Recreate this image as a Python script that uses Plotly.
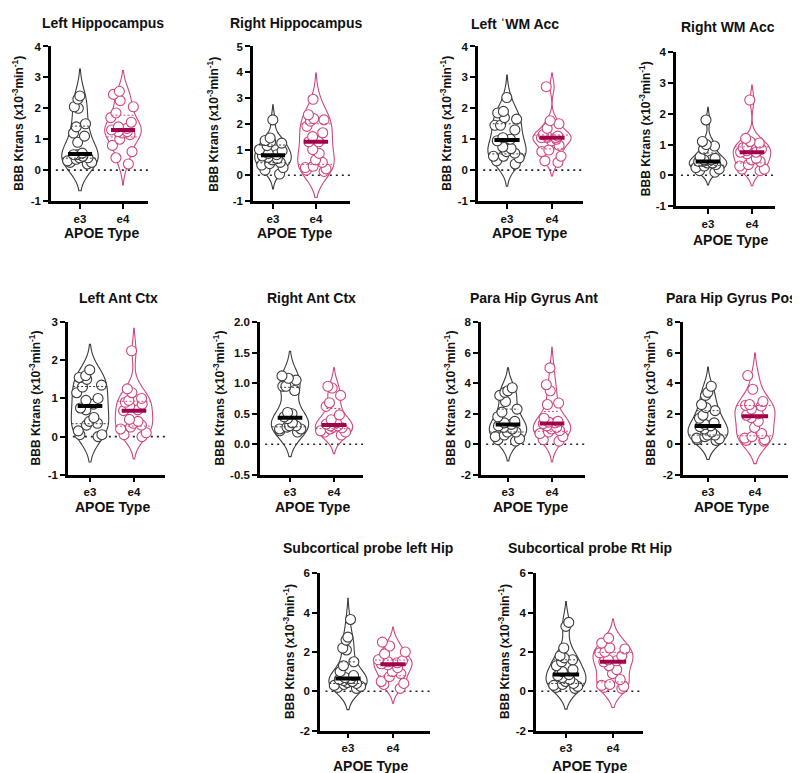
import plotly.graph_objects as go
import numpy as np

W, H = 800, 773
FONT = "Liberation Sans, Arial, sans-serif"

# ---------------- data ----------------
titles = ["Left Hippocampus", "Right Hippocampus", "Left ˈWM Acc", "Right WM Acc",
          "Left Ant Ctx", "Right Ant Ctx", "Para Hip Gyrus Ant", "Para Hip Gyrus Post",
          "Subcortical probe left Hip", "Subcortical probe Rt Hip"]
groups = ["e3", "e4"]

lh_e3 = [2.4, 2.3, 2.05, 2.0, 1.5, 1.4, 1.2, 1.1, 0.9, 0.55, 0.5, 0.45, 0.4, 0.4, 0.35, 0.3, 0.25, 0.25, 0.2, 0.5]
lh_e4 = [2.55, 2.45, 2.25, 2.05, 1.85, 1.7, 1.55, 1.4, 1.35, 1.3, 1.25, 1.25, 1.2, 1.15, 1.0, 0.8, 0.6, 0.4, 0.2]
rh_e3 = [2.15, 1.45, 1.35, 1.3, 1.25, 1.15, 1.0, 0.95, 0.85, 0.8, 0.75, 0.7, 0.65, 0.6, 0.5, 0.45, 0.4, 0.3, 0.2, 0.05]
rh_e4 = [2.95, 2.35, 2.2, 2.15, 2.1, 1.9, 1.65, 1.5, 1.3, 1.3, 1.0, 0.85, 0.6, 0.5, 0.35, 0.3, 0.25, 0.2, 0.15]
lwm_e3 = [2.35, 1.9, 1.85, 1.7, 1.65, 1.45, 1.45, 1.3, 1.05, 1.0, 0.95, 0.75, 0.7, 0.55, 0.45, 0.45, 0.4, 0.3, 0.2, 0.6]
lwm_e4 = [2.7, 1.6, 1.5, 1.35, 1.15, 1.1, 1.1, 1.05, 1.05, 1.05, 1.0, 0.95, 0.8, 0.65, 0.6, 0.45, 0.3, 0.25]
rwm_e3 = [1.8, 1.1, 1.0, 0.95, 0.85, 0.6, 0.55, 0.5, 0.45, 0.45, 0.4, 0.4, 0.35, 0.3, 0.25, 0.2, 0.15, 0.1, 0.5]
rwm_e4 = [2.45, 1.2, 1.1, 1.05, 0.95, 0.9, 0.85, 0.8, 0.75, 0.75, 0.7, 0.55, 0.5, 0.45, 0.35, 0.3, 0.2, 0.2, 0.15]
lac_e3 = [1.75, 1.6, 1.55, 1.5, 1.35, 1.3, 1.15, 1.0, 0.95, 0.85, 0.7, 0.5, 0.4, 0.35, 0.3, 0.15, 0.05, 0.05, 0.0, 0.75]
lac_e4 = [2.25, 1.25, 1.15, 1.0, 0.95, 0.9, 0.85, 0.8, 0.7, 0.68, 0.45, 0.4, 0.35, 0.3, 0.25, 0.2, 0.1, 0.05, 0.0]
rac_e3 = [1.12, 1.08, 1.05, 0.95, 0.95, 0.88, 0.52, 0.5, 0.45, 0.42, 0.35, 0.3, 0.28, 0.25, 0.25, 0.22, 0.2, 0.3]
rac_e4 = [0.95, 0.92, 0.8, 0.68, 0.62, 0.48, 0.4, 0.35, 0.33, 0.3, 0.3, 0.28, 0.27, 0.25, 0.22, 0.2, 0.2, 0.15]
pga_e3 = [3.7, 3.5, 3.4, 3.2, 2.8, 2.3, 2.1, 1.8, 1.4, 1.3, 1.2, 1.1, 1.0, 0.8, 0.6, 0.5, 0.35, 0.3, 0.2, 0.8, 1.5]
pga_e4 = [5.0, 3.9, 3.5, 2.7, 2.6, 1.7, 1.5, 1.45, 1.4, 1.35, 1.2, 1.1, 1.0, 0.9, 0.8, 0.7, 0.5, 0.3, 0.2]
pgp_e3 = [3.8, 3.4, 3.2, 2.6, 2.4, 2.2, 1.9, 1.7, 1.4, 1.2, 1.15, 1.0, 0.8, 0.6, 0.5, 0.4, 0.35, 0.3, 0.25, 0.6, 1.3]
pgp_e4 = [4.5, 3.6, 2.8, 2.6, 2.55, 2.5, 2.3, 2.0, 1.9, 1.75, 1.5, 1.1, 0.7, 0.5, 0.4, 0.3, 0.25, 0.2]
slh_e3 = [3.65, 2.75, 2.6, 2.2, 2.1, 1.5, 1.3, 1.0, 0.8, 0.7, 0.6, 0.55, 0.5, 0.45, 0.4, 0.35, 0.3, 0.25, 0.2, 0.15, 0.65]
slh_e4 = [2.5, 2.3, 2.0, 1.9, 1.6, 1.55, 1.5, 1.45, 1.4, 1.35, 1.2, 1.0, 0.9, 0.75, 0.5, 0.4, 0.35, 0.15]
srh_e3 = [3.5, 3.3, 2.2, 1.8, 1.7, 1.6, 1.5, 1.3, 1.1, 1.0, 0.85, 0.8, 0.7, 0.6, 0.5, 0.4, 0.35, 0.3, 0.25, 0.2, 0.15]
srh_e4 = [2.7, 2.45, 2.2, 2.15, 2.0, 1.95, 1.8, 1.6, 1.55, 1.5, 1.3, 1.1, 0.9, 0.6, 0.35, 0.3, 0.25, 0.2, 0.15]

series = [(lh_e3, lh_e4), (rh_e3, rh_e4), (lwm_e3, lwm_e4), (rwm_e3, rwm_e4),
          (lac_e3, lac_e4), (rac_e3, rac_e4), (pga_e3, pga_e4), (pgp_e3, pgp_e4),
          (slh_e3, slh_e4), (srh_e3, srh_e4)]

yticks_a = [-1, 0, 1, 2, 3, 4]
yticks_b = [-1, 0, 1, 2, 3, 4, 5]
yticks_c = [-1, 0, 1, 2, 3]
yticks_d = [-0.5, 0.0, 0.5, 1.0, 1.5, 2.0]
yticks_e = [-2, 0, 2, 4, 6, 8]
yticks_f = [-2, 0, 2, 4, 6]
yticklabels_a = ["-1", "0", "1", "2", "3", "4"]
yticklabels_b = ["-1", "0", "1", "2", "3", "4", "5"]
yticklabels_c = ["-1", "0", "1", "2", "3"]
yticklabels_d = ["-0.5", "0.0", "0.5", "1.0", "1.5", "2.0"]
yticklabels_e = ["-2", "0", "2", "4", "6", "8"]
yticklabels_f = ["-2", "0", "2", "4", "6"]
panel_ticks = [(yticks_a, yticklabels_a), (yticks_b, yticklabels_b), (yticks_a, yticklabels_a),
               (yticks_a, yticklabels_a), (yticks_c, yticklabels_c), (yticks_d, yticklabels_d),
               (yticks_e, yticklabels_e), (yticks_e, yticklabels_e), (yticks_f, yticklabels_f),
               (yticks_f, yticklabels_f)]

y_title = "<b>BBB Ktrans (x10<sup>-3</sup>min<sup>-1</sup>)</b>"
x_title = "<b>APOE Type</b>"

# ---------------- layout geometry (pixels) ----------------
# left, right, top, bottom, e3 centre, e4 centre, title x, title y, title anchor, ytitle x, xtitle y
geom = [
    (43, 140, 33, 190, 72, 115, 95, 9, "center", 10, 222),
    (245, 342, 33, 190, 265, 308, 288, 9, "center", 205, 222),
    (470, 575, 33, 190, 499, 544, 507, 10, "center", 438, 222),
    (668, 767, 39, 195, 700, 744, 720, 13, "center", 637, 230),
    (60, 157, 313, 468, 82, 126, 110, 288, "center", 27, 501),
    (252, 355, 313, 468, 282, 326, 303, 288, "center", 211, 501),
    (473, 577, 313, 468, 500, 544, 526, 288, "center", 442, 501),
    (675, 780, 313, 468, 700, 747, 656, 288, "left", 642, 501),
    (312, 422, 568, 728, 340, 385, 360, 542, "center", 281, 764),
    (528, 635, 568, 728, 558, 605, 582, 542, "center", 496, 764),
]

C_E3 = "#3c3c3c"
C_E4 = "#d2467f"
C_E3_MED = "#000000"
C_E4_MED = "#a0004c"
VW = 0.85  # violin max width (x data units)


def kde_halfwidth(vals, ys):
    """Half width of a plotly-style violin (Silverman bandwidth, scalemode width)."""
    v = np.asarray(vals, float)
    n = len(v)
    sd = v.std(ddof=1)
    q1, q3 = np.percentile(v, [25, 75])
    iqr = q3 - q1
    a = min(sd, iqr / 1.349) if iqr > 0 else sd
    bw = 1.059 * a * n ** -0.2
    grid = np.linspace(v.min() - 2 * bw, v.max() + 2 * bw, 400)
    dens = lambda y: np.exp(-0.5 * ((np.asarray(y)[..., None] - v) / bw) ** 2).sum(-1)
    dmax = dens(grid).max()
    return VW / 2 * dens(ys) / dmax


fig = go.Figure()
annotations = []
shapes = []


def px(x):
    return x / W


def py(y):
    return 1 - y / H


for k, (title, (d3, d4), (tv, tt), g) in enumerate(zip(titles, series, panel_ticks, geom), start=1):
    left, right, top, bottom, c3, c4, tx, ty, tanchor, ytx, xty = g
    xa = "x" if k == 1 else f"x{k}"
    ya = "y" if k == 1 else f"y{k}"
    unit = (c4 - c3)
    xr = [(left - c3) / unit, (right - c3) / unit]

    for i, (vals, col, mcol) in enumerate([(d3, C_E3, C_E3_MED), (d4, C_E4, C_E4_MED)]):
        fig.add_trace(go.Violin(
            y=vals, x0=i, name=groups[i], xaxis=xa, yaxis=ya,
            width=VW, spanmode="soft", scalemode="width",
            line=dict(color=col, width=1.1), fillcolor="rgba(255,255,255,0)",
            points="all", pointpos=0, jitter=0.85,
            marker=dict(symbol="circle", size=10, color="white",
                        line=dict(color=col, width=1.1)),
            box_visible=False, meanline_visible=False, showlegend=False,
        ))
        # quartile dotted lines
        q1, q3 = np.percentile(vals, [25, 75])
        hw = kde_halfwidth(vals, [q1, q3])
        for q, h in zip([q1, q3], hw):
            fig.add_trace(go.Scatter(
                x=[i - h, i + h], y=[q, q], mode="lines",
                line=dict(color=col, width=1, dash="2px,2px"), xaxis=xa, yaxis=ya,
                showlegend=False, hoverinfo="skip"))
        med = float(np.median(vals))
        fig.add_trace(go.Scatter(
            x=[i - 0.28, i + 0.28], y=[med, med], mode="lines",
            line=dict(color=mcol, width=4), xaxis=xa, yaxis=ya,
            showlegend=False, hoverinfo="skip"))

    dom_x = [px(left), px(right)]
    dom_y = [py(bottom), py(top)]
    axfont = dict(family=FONT, size=11.5, color="#111", weight="bold")
    fig.layout[f"xaxis{'' if k == 1 else k}"] = dict(
        domain=dom_x, range=xr, anchor=ya, showgrid=False, zeroline=False,
        showline=True, linecolor="black", linewidth=2.5, ticks="outside",
        ticklen=5, tickwidth=2, tickcolor="black", tickvals=[0, 1], ticktext=groups,
        tickfont=axfont, fixedrange=True)
    fig.layout[f"yaxis{'' if k == 1 else k}"] = dict(
        domain=dom_y, range=[tv[0], tv[-1]], anchor=xa, showgrid=False, zeroline=False,
        showline=True, linecolor="black", linewidth=2.5, ticks="outside",
        ticklen=5, tickwidth=2, tickcolor="black", tickvals=tv, ticktext=tt,
        tickfont=axfont, fixedrange=True)

    shapes.append(dict(type="line", xref=f"{xa} domain", yref=ya, x0=0.05, x1=1,
                       y0=0, y1=0, line=dict(color="#222", width=1.6, dash="2px,4px"),
                       layer="below"))

    annotations.append(dict(text=f"<b>{title}</b>", x=px(tx), y=py(ty), xref="paper", yref="paper",
                            xanchor=tanchor, yanchor="middle", showarrow=False,
                            font=dict(family=FONT, size=14, color="#111")))
    annotations.append(dict(text=y_title, x=px(ytx), y=py((top + bottom) / 2), xref="paper",
                            yref="paper", xanchor="center", yanchor="middle", showarrow=False,
                            textangle=-90, font=dict(family=FONT, size=12, color="#111")))
    annotations.append(dict(text=x_title, x=px((c3 + c4) / 2), y=py(xty), xref="paper",
                            yref="paper", xanchor="center", yanchor="middle", showarrow=False,
                            font=dict(family=FONT, size=14, color="#111")))

fig.update_layout(
    width=W, height=H, margin=dict(l=0, r=0, t=0, b=0),
    paper_bgcolor="white", plot_bgcolor="white",
    violinmode="overlay", showlegend=False,
    annotations=annotations, shapes=shapes,
    font=dict(family=FONT),
)

fig.write_html("out.html")
